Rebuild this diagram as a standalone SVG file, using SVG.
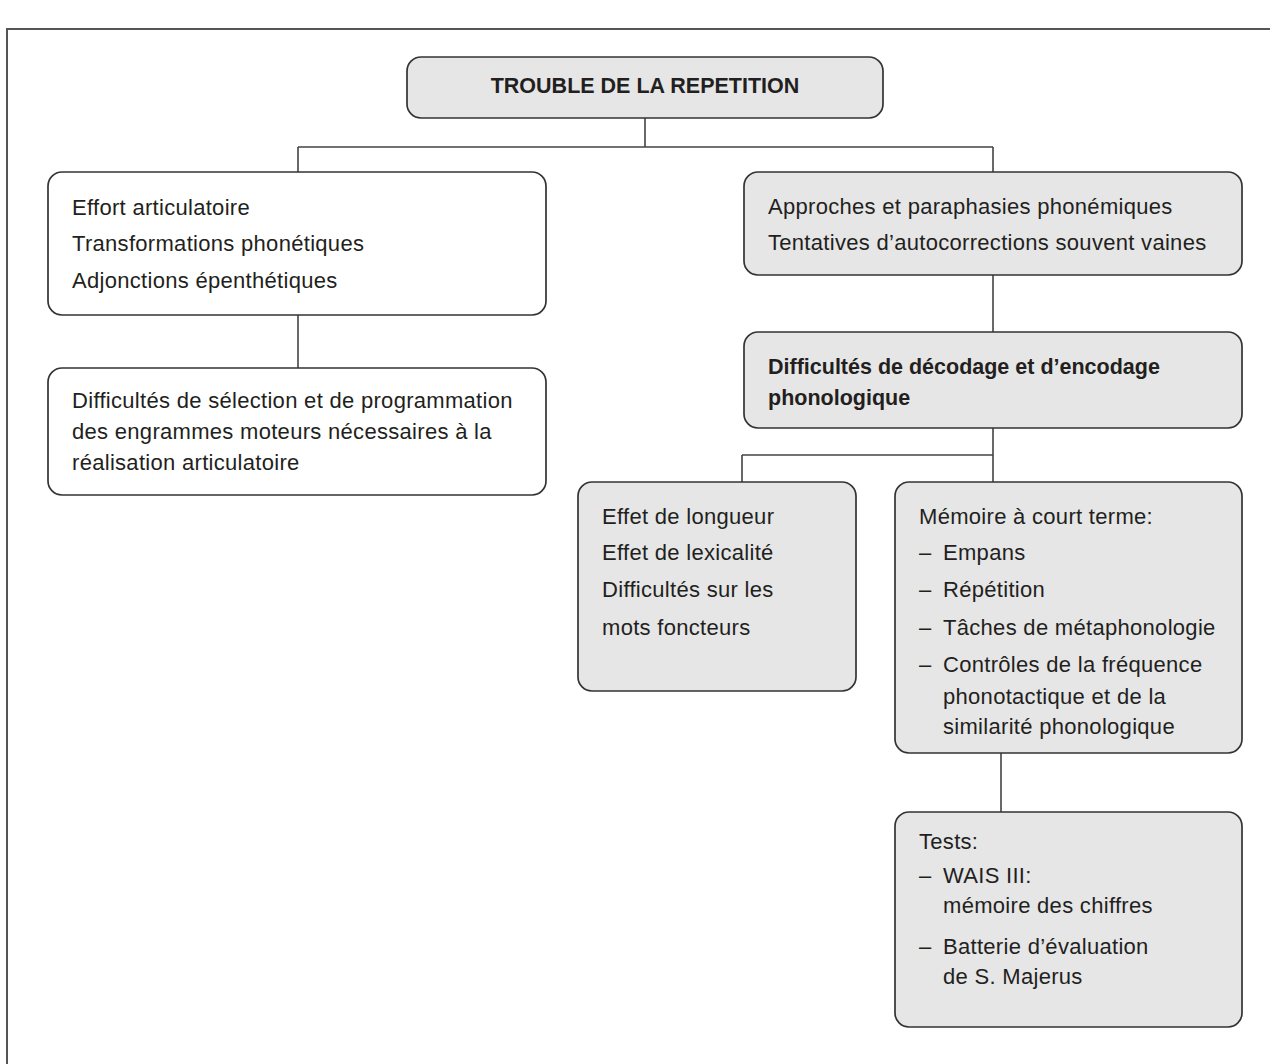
<svg xmlns="http://www.w3.org/2000/svg" width="1270" height="1064" viewBox="0 0 1270 1064">
<style>
.box{stroke:#333;stroke-width:1.7;}
.g{fill:#e6e6e6;}
.w{fill:#fff;}
.t{font-family:"Liberation Sans",Arial,sans-serif;font-size:22px;letter-spacing:0.3px;fill:#231f20;}
.b{font-family:"Liberation Sans",Arial,sans-serif;font-size:21.5px;font-weight:bold;fill:#231f20;}
.c{stroke:#444;stroke-width:1.6;fill:none;}
</style>
<rect width="1270" height="1064" fill="#fff"/>
<path d="M7,1064 V29 H1270" fill="none" stroke="#555" stroke-width="2"/>
<g id="connectors">
<path class="c" d="M645,118 V147 M298,147 H993 M298,147 V172 M993,147 V172"/>
<path class="c" d="M298,315 V368"/>
<path class="c" d="M993,275 V332"/>
<path class="c" d="M993,428 V482 M742,455 H993 M742,455 V482"/>
<path class="c" d="M1001,753 V812"/>
</g>
<g id="n-root">
<rect class="box g" x="407" y="57" width="476" height="61" rx="14"/>
<text class="b" x="645" y="93" text-anchor="middle" font-size="22">TROUBLE DE LA REPETITION</text>
</g>
<g id="n-left1">
<rect class="box w" x="48" y="172" width="498" height="143" rx="14"/>
<text class="t" x="72" y="215">Effort articulatoire</text>
<text class="t" x="72" y="251">Transformations phonétiques</text>
<text class="t" x="72" y="288">Adjonctions épenthétiques</text>
</g>
<g id="n-left2">
<rect class="box w" x="48" y="368" width="498" height="127" rx="14"/>
<text class="t" x="72" y="408">Difficultés de sélection et de programmation</text>
<text class="t" x="72" y="439">des engrammes moteurs nécessaires à la</text>
<text class="t" x="72" y="470">réalisation articulatoire</text>
</g>
<g id="n-right1">
<rect class="box g" x="744" y="172" width="498" height="103" rx="14"/>
<text class="t" x="768" y="214">Approches et paraphasies phonémiques</text>
<text class="t" x="768" y="250">Tentatives d’autocorrections souvent vaines</text>
</g>
<g id="n-right2">
<rect class="box g" x="744" y="332" width="498" height="96" rx="14"/>
<text class="b" x="768" y="374">Difficultés de décodage et d’encodage</text>
<text class="b" x="768" y="405">phonologique</text>
</g>
<g id="n-effets">
<rect class="box g" x="578" y="482" width="278" height="209" rx="14"/>
<text class="t" x="602" y="524">Effet de longueur</text>
<text class="t" x="602" y="560">Effet de lexicalité</text>
<text class="t" x="602" y="597">Difficultés sur les</text>
<text class="t" x="602" y="635">mots foncteurs</text>
</g>
<g id="n-memoire">
<rect class="box g" x="895" y="482" width="347" height="271" rx="14"/>
<text class="t" x="919" y="524">Mémoire à court terme:</text>
<text class="t" x="919" y="560">–</text><text class="t" x="943" y="560">Empans</text>
<text class="t" x="919" y="597">–</text><text class="t" x="943" y="597">Répétition</text>
<text class="t" x="919" y="635">–</text><text class="t" x="943" y="635">Tâches de métaphonologie</text>
<text class="t" x="919" y="672">–</text><text class="t" x="943" y="672">Contrôles de la fréquence</text>
<text class="t" x="943" y="704">phonotactique et de la</text>
<text class="t" x="943" y="734">similarité phonologique</text>
</g>
<g id="n-tests">
<rect class="box g" x="895" y="812" width="347" height="215" rx="14"/>
<text class="t" x="919" y="849">Tests:</text>
<text class="t" x="919" y="883">–</text><text class="t" x="943" y="883">WAIS III:</text>
<text class="t" x="943" y="913">mémoire des chiffres</text>
<text class="t" x="919" y="954">–</text><text class="t" x="943" y="954">Batterie d’évaluation</text>
<text class="t" x="943" y="984">de S. Majerus</text>
</g>
</svg>
